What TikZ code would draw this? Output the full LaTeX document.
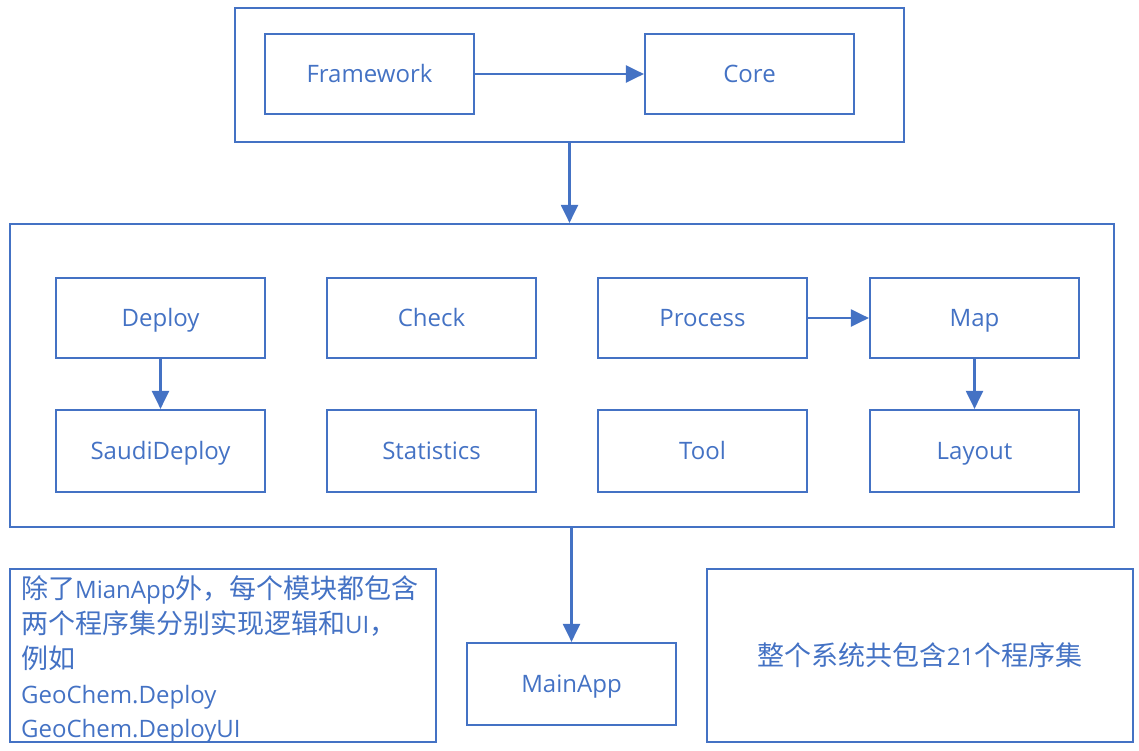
\documentclass[tikz,border=0pt]{standalone}
\usepackage{fontspec}
\setmainfont{Open Sans}
\newfontfamily\cjk[Scale=1.125]{Noto Sans CJK SC}
\usetikzlibrary{arrows.meta}
\definecolor{obl}{HTML}{4472C4}
\begin{document}
\begin{tikzpicture}[x=1pt,y=-1pt,
  box/.style={draw=obl,line width=2.2pt,text=obl,inner sep=0pt,
    font=\fontsize{24}{28}\selectfont},
  mod/.style={box,minimum width=209pt,minimum height=80pt,
    text height=18pt,text depth=1pt},
  conn/.style={draw=obl,line width=2.2pt,-{Triangle[length=18pt,width=17pt]}}]
\useasboundingbox (0,0) rectangle (1139,750);
\node[box,minimum width=669pt,minimum height=134pt] (top) at (569.5,75) {};
\node[mod] (fw) at (369.5,74) {Framework};
\node[mod] (core) at (749.5,74) {Core};
\node[box,minimum width=1104pt,minimum height=303pt] (mid) at (562,375.5) {};
\node[mod] (deploy) at (160.5,318) {Deploy};
\node[mod] (check) at (431.5,318) {Check};
\node[mod] (process) at (702.5,318) {Process};
\node[mod] (map) at (974.5,318) {Map};
\node[mod,minimum height=82pt] (saudi) at (160.5,451) {SaudiDeploy};
\node[mod,minimum height=82pt] (stat) at (431.5,451) {Statistics};
\node[mod,minimum height=82pt] (tool) at (702.5,451) {Tool};
\node[mod,minimum height=82pt] (layout) at (974.5,451) {Layout};
\node[mod,minimum height=82pt] (main) at (571.5,684) {MainApp};
\node[box,minimum width=426pt,minimum height=173pt] (note) at (223,655.5) {};
\node[text=obl,inner sep=0pt,anchor=north west,text width=410pt,align=left,
  font=\fontsize{24}{34.7}\selectfont] (notetext) at ([shift={(12,8)}]note.north west)
  {{\cjk 除了}MianApp{\cjk 外，每个模块都包含}\\
   {\cjk 两个程序集分别实现逻辑和}UI{\cjk ，}\\
   {\cjk 例如}\\
   GeoChem.Deploy\\
   GeoChem.DeployUI};
\node[box,minimum width=426pt,minimum height=173pt] (total) at (920,655.5)
  {{\cjk 整个系统共包含}21{\cjk 个程序集}};
\draw[conn] (fw) -- (core);
\draw[conn] (top.south) -- (top.south |- mid.north);
\draw[conn] (deploy) -- (saudi);
\draw[conn] (process) -- (map);
\draw[conn] (map) -- (layout);
\draw[conn] (main.north |- mid.south) -- (main.north);
\end{tikzpicture}
\end{document}
